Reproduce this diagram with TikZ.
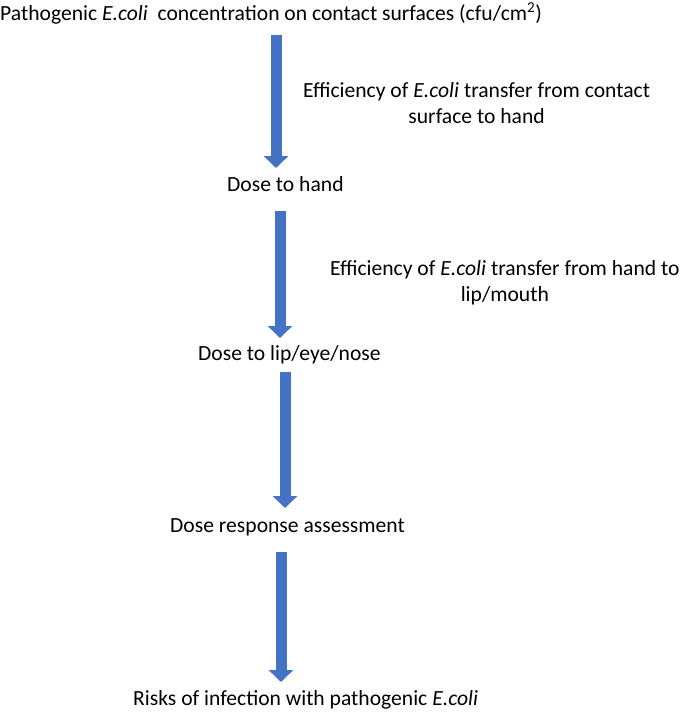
\documentclass[tikz,border=0pt]{standalone}
\usepackage{fontspec}
\setmainfont{Carlito}
\usepackage{tikz}
\usetikzlibrary{arrows.meta,positioning}
\definecolor{flowblue}{HTML}{4472C4}

\begin{document}
\begin{tikzpicture}[x=1pt,y=-1pt]%
            \useasboundingbox (0,0) rectangle (690,713); %%
            \tikzstyle{bigarrow}=[draw=flowblue,line width=11pt,-{Triangle[width=24pt,length=12pt]}] %%
            \begin{scope}[inner sep=0pt,font=\fontsize{21.6}{26}\selectfont]%
            \tikzstyle{every node}=[anchor=base west] %%
            \node (conc) at (0,20)  {Pathogenic \textit{E.coli}\ \ concentration on contact surfaces (cfu/cm\textsuperscript{2})}; %%
            \node (hand) at (227,191)  {Dose to hand}; %%
            \node (lip) at (198,360)  {Dose to lip/eye/nose}; %%
            \node (resp) at (170,532)  {Dose response assessment}; %%
            \node (risk) at (133,705)  {Risks of infection with pathogenic \textit{E.coli}}; %%
            \node[align=center] (eff1) at (303,123)  {Efficiency of \textit{E.coli} transfer from contact\\surface to hand}; %%
            \node[align=center] (eff2) at (330,301)  {Efficiency of \textit{E.coli} transfer from hand to\\lip/mouth}; %%
            \end{scope}
            \coordinate (c1) at (276,35); \coordinate (h1) at (276,168); %%
            \coordinate (h2) at (280,211); \coordinate (l1) at (280,338); %%
            \coordinate (l2) at (285,372); \coordinate (r1) at (285,508); %%
            \coordinate (r2) at (281,552); \coordinate (k1) at (281,682); %%
            \draw[bigarrow] (c1)--(h1); %%
            \draw[bigarrow] (h2)--(l1); %%
            \draw[bigarrow] (l2)--(r1); %%
            \draw[bigarrow] (r2)--(k1); %%
        \end{tikzpicture}
\end{document}
